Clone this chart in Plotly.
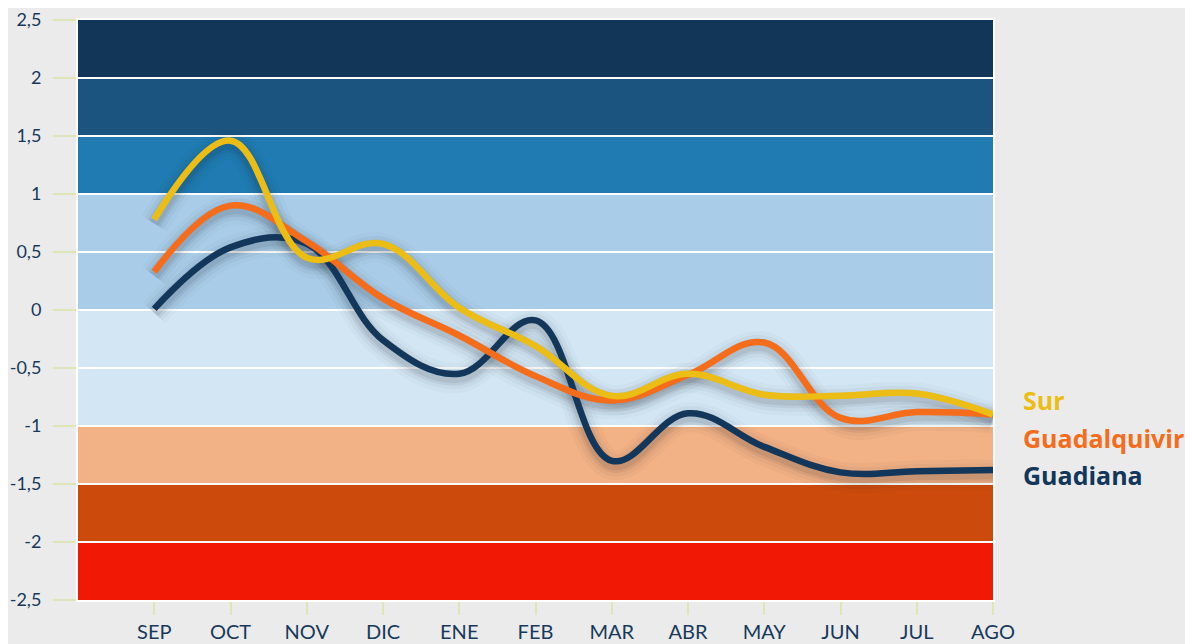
import plotly.graph_objects as go

months = ["SEP", "OCT", "NOV", "DIC", "ENE", "FEB", "MAR", "ABR", "MAY", "JUN", "JUL", "AGO"]

guadiana = [0.01, 0.54, 0.57, -0.26, -0.55, -0.09, -1.30, -0.89, -1.18, -1.40, -1.39, -1.38]
guadalquivir = [0.33, 0.90, 0.59, 0.10, -0.22, -0.57, -0.78, -0.56, -0.28, -0.93, -0.88, -0.90]
sur = [0.78, 1.46, 0.45, 0.57, 0.02, -0.31, -0.74, -0.55, -0.73, -0.74, -0.72, -0.90]

series_names = ["Guadiana", "Guadalquivir", "Sur"]
series_colors = ["#12375a", "#f56c1a", "#ecbd14"]

band_lo = [2.0, 1.5, 1.0, 0.0, -1.0, -1.5, -2.0]
band_hi = [2.5, 2.0, 1.5, 1.0, 0.0, -1.0, -1.5]
band_colors = ["#123658", "#1a547f", "#1f7bb2", "#a9cce8", "#d3e6f4", "#f3b186", "#cc4b0c"]
band_bottom_lo = -2.5
band_bottom_hi = -2.0
band_bottom_color = "#f21806"

y_tickvals = [2.5, 2.0, 1.5, 1.0, 0.5, 0.0, -0.5, -1.0, -1.5, -2.0, -2.5]
y_ticktext = ["2,5", "2", "1,5", "1", "0,5", "0", "-0,5", "-1", "-1,5", "-2", "-2,5"]

label_y_paper = [0.2155, 0.279, 0.345]

# shadow axis offset (in data units) so the soft shadow falls a few px below each line
shadow_shift = 0.035

fig = go.Figure()

all_series = [guadiana, guadalquivir, sur]

for vals in all_series:
    for w, a in [(30, 0.025), (22, 0.04), (15, 0.06), (10, 0.08)]:
        fig.add_trace(go.Scatter(
            x=months, y=vals, mode="lines", yaxis="y2",
            line=dict(color=f"rgba(20,25,35,{a})", width=w, shape="spline", smoothing=1.1),
            hoverinfo="skip", showlegend=False))

for name, vals, col in zip(series_names, all_series, series_colors):
    fig.add_trace(go.Scatter(
        x=months, y=vals, mode="lines", name=name, yaxis="y3",
        line=dict(color=col, width=6.5, shape="spline", smoothing=1.1),
        showlegend=False))

shapes = []
for lo, hi, c in zip(band_lo + [band_bottom_lo], band_hi + [band_bottom_hi], band_colors + [band_bottom_color]):
    shapes.append(dict(type="rect", xref="paper", yref="y", x0=0, x1=1, y0=lo, y1=hi,
                       fillcolor=c, line=dict(width=0), layer="below"))

annotations = []
for name, col, yp in zip(series_names, series_colors, label_y_paper):
    annotations.append(dict(text=f"<b>{name}</b>", x=1.031, y=yp, xref="paper", yref="paper",
                            xanchor="left", yanchor="middle", showarrow=False,
                            font=dict(family="Open Sans", size=25, color=col)))

fig.update_layout(
    width=1185, height=636,
    margin=dict(l=70, r=200, t=12, b=44),
    paper_bgcolor="#ebebeb",
    plot_bgcolor="#ebebeb",
    shapes=shapes,
    annotations=annotations,
    font=dict(family="Lato", color="#173a5c"),
    showlegend=False,
    yaxis2=dict(overlaying="y", range=[-2.5 + shadow_shift, 2.5 + shadow_shift],
                visible=False, showgrid=False, zeroline=False),
    yaxis3=dict(overlaying="y", range=[-2.5, 2.5],
                visible=False, showgrid=False, zeroline=False),
)

fig.update_xaxes(
    type="category", categoryorder="array", categoryarray=months,
    range=[-1, 11], showgrid=False, zeroline=False, automargin=False,
    ticks="outside", ticklen=13, tickwidth=1.5, tickcolor="#dde6b4",
    tickfont=dict(family="Lato", size=20, color="#173a5c"),
    showline=True, linecolor="white", linewidth=2, mirror=True,
)
fig.update_layout(yaxis=dict(
    range=[-2.5, 2.5], tickvals=y_tickvals, ticktext=y_ticktext,
    showgrid=True, gridcolor="white", gridwidth=2, zeroline=False, automargin=False,
    ticks="outside", ticklen=23, tickwidth=1.5, tickcolor="#dde6b4",
    tickfont=dict(family="Lato", size=18, color="#173a5c"),
    ticklabelstandoff=8,
    showline=True, linecolor="white", linewidth=2, mirror=True,
))

fig.write_html("out.html")
